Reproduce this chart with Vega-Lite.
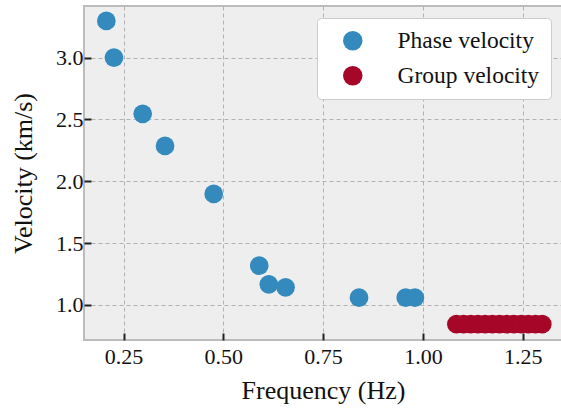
{
  "$schema": "https://vega.github.io/schema/vega-lite/v6.json",
  "width": 478,
  "height": 334,
  "autosize": {"type": "none"},
  "padding": {"left": 84, "top": 6, "right": 0, "bottom": 70},
  "background": "white",
  "config": {
    "font": "Liberation Serif, serif",
    "axis": {"labelFont": "Liberation Serif, serif", "titleFont": "Liberation Serif, serif"},
    "legend": {"labelFont": "Liberation Serif, serif", "titleFont": "Liberation Serif, serif"},
    "view": {"fill": "#eeeeee", "stroke": "#bcbcbc", "strokeWidth": 2}
  },
  "data": {
    "values": [
      {"freq": 0.207, "vel": 3.296, "type": "Phase velocity"},
      {"freq": 0.226, "vel": 3.0, "type": "Phase velocity"},
      {"freq": 0.298, "vel": 2.545, "type": "Phase velocity"},
      {"freq": 0.354, "vel": 2.286, "type": "Phase velocity"},
      {"freq": 0.476, "vel": 1.898, "type": "Phase velocity"},
      {"freq": 0.590, "vel": 1.318, "type": "Phase velocity"},
      {"freq": 0.614, "vel": 1.167, "type": "Phase velocity"},
      {"freq": 0.656, "vel": 1.143, "type": "Phase velocity"},
      {"freq": 0.840, "vel": 1.059, "type": "Phase velocity"},
      {"freq": 0.957, "vel": 1.059, "type": "Phase velocity"},
      {"freq": 0.980, "vel": 1.059, "type": "Phase velocity"},
      {"freq": 1.084, "vel": 0.845, "type": "Group velocity"},
      {"freq": 1.102, "vel": 0.845, "type": "Group velocity"},
      {"freq": 1.120, "vel": 0.845, "type": "Group velocity"},
      {"freq": 1.138, "vel": 0.845, "type": "Group velocity"},
      {"freq": 1.156, "vel": 0.845, "type": "Group velocity"},
      {"freq": 1.174, "vel": 0.845, "type": "Group velocity"},
      {"freq": 1.192, "vel": 0.845, "type": "Group velocity"},
      {"freq": 1.210, "vel": 0.845, "type": "Group velocity"},
      {"freq": 1.228, "vel": 0.845, "type": "Group velocity"},
      {"freq": 1.246, "vel": 0.845, "type": "Group velocity"},
      {"freq": 1.264, "vel": 0.845, "type": "Group velocity"},
      {"freq": 1.282, "vel": 0.845, "type": "Group velocity"},
      {"freq": 1.299, "vel": 0.845, "type": "Group velocity"}
    ]
  },
  "mark": {"type": "circle", "size": 350, "opacity": 1},
  "encoding": {
    "x": {
      "field": "freq",
      "type": "quantitative",
      "title": "Frequency (Hz)",
      "scale": {"domain": [0.151, 1.3485], "nice": false, "zero": false},
      "axis": {
        "values": [0.25, 0.5, 0.75, 1.0, 1.25],
        "format": ".2f",
        "domain": false,
        "grid": true,
        "gridColor": "#b2b2b2",
        "gridDash": [4, 3],
        "gridWidth": 1,
        "tickSize": -7,
        "tickWidth": 2,
        "tickColor": "#222222",
        "labelPadding": 13,
        "labelFont": "Liberation Serif, serif",
        "labelFontSize": 22,
        "labelColor": "#111111",
        "titleFont": "Liberation Serif, serif",
        "titleFontSize": 26,
        "titleFontWeight": "normal",
        "titleColor": "#111111",
        "titlePadding": 10
      }
    },
    "y": {
      "field": "vel",
      "type": "quantitative",
      "title": "Velocity (km/s)",
      "scale": {"domain": [0.717, 3.417], "nice": false, "zero": false},
      "axis": {
        "values": [1.0, 1.5, 2.0, 2.5, 3.0],
        "format": ".1f",
        "domain": false,
        "grid": true,
        "gridColor": "#b2b2b2",
        "gridDash": [4, 3],
        "gridWidth": 1,
        "tickSize": -7,
        "tickWidth": 2,
        "tickColor": "#222222",
        "labelPadding": 8,
        "labelFont": "Liberation Serif, serif",
        "labelFontSize": 22,
        "labelColor": "#111111",
        "titleFont": "Liberation Serif, serif",
        "titleFontSize": 26,
        "titleFontWeight": "normal",
        "titleColor": "#111111",
        "titlePadding": 19
      }
    },
    "color": {
      "field": "type",
      "type": "nominal",
      "scale": {"domain": ["Phase velocity", "Group velocity"], "range": ["#348ABD", "#A60628"]},
      "legend": {
        "title": null,
        "orient": "none",
        "legendX": 233,
        "legendY": 12,
        "padding": 11,
        "fillColor": "white",
        "strokeColor": "#cccccc",
        "cornerRadius": 4,
        "symbolType": "circle",
        "symbolSize": 380,
        "symbolOpacity": 1,
        "symbolStrokeWidth": 0,
        "symbolOffset": 13,
        "labelOffset": 33,
        "labelFont": "Liberation Serif, serif",
        "labelFontSize": 23.5,
        "labelColor": "#111111",
        "labelLimit": 300,
        "rowPadding": 10
      }
    }
  }
}
